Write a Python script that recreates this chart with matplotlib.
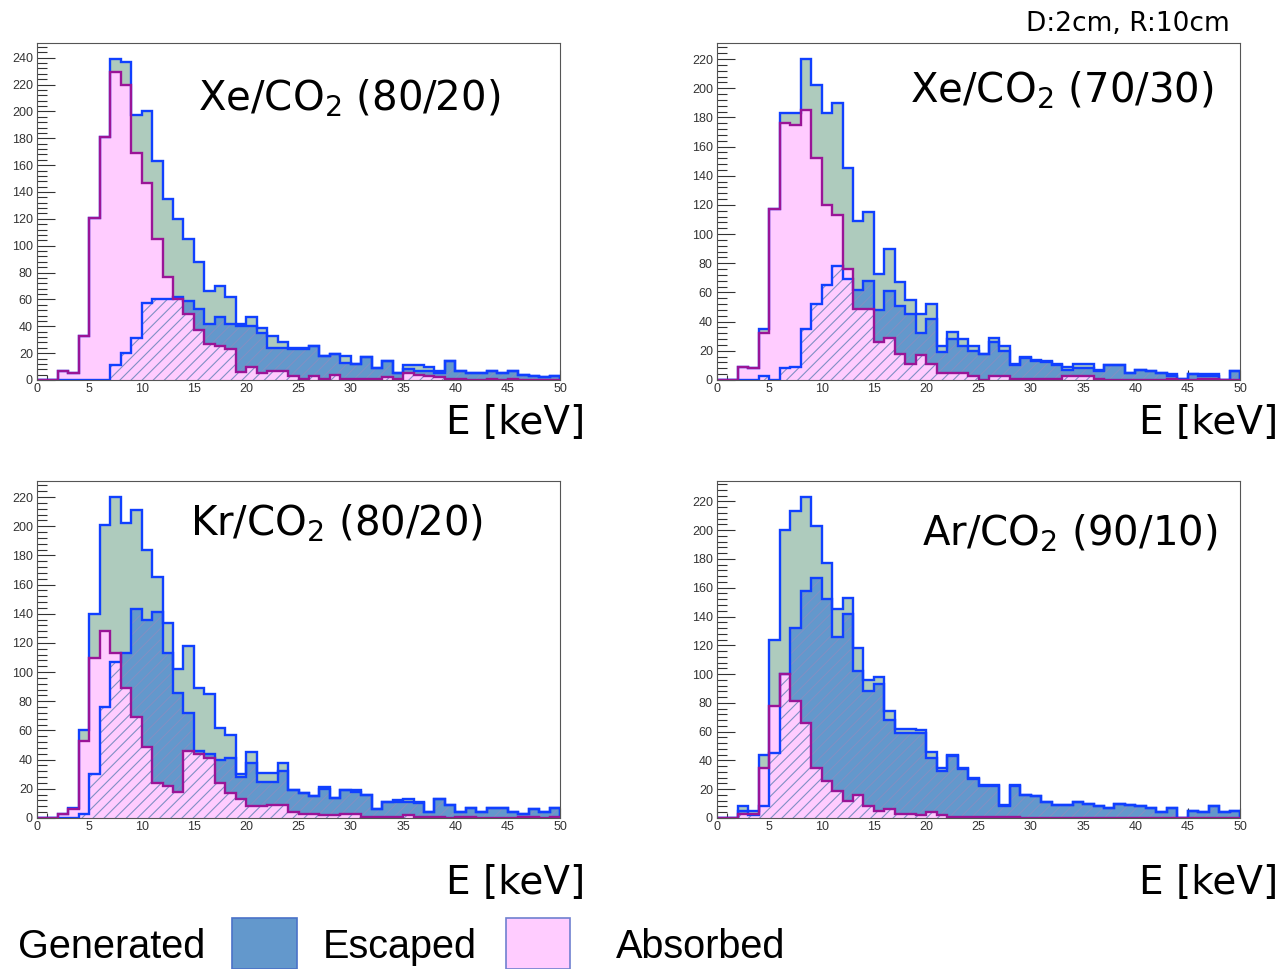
#!/usr/bin/env python3
"""Energy spectra of generated / escaped / absorbed photons for four gas mixtures (ROOT-style)."""

import numpy as np
import matplotlib

matplotlib.use("Agg")
import matplotlib.pyplot as plt
from matplotlib.patches import Rectangle
from matplotlib.ticker import MultipleLocator

W, H = 1281, 969

EDGES = np.arange(0, 51, 1)  # 1 keV bins, 0..50 keV

# --- Xe/CO2 (80/20)
GEN_XE80 = [0, 0, 7, 5, 33, 121, 181, 239, 237, 197, 200, 163, 135, 120, 105, 88, 66, 70, 62, 42,
            47, 39, 33, 28, 24, 24, 25, 18, 19, 18, 12, 17, 9, 14, 5, 11, 11, 10, 7, 14,
            7, 5, 5, 7, 5, 7, 4, 3, 2, 3]
ESC_XE80 = [0, 0, 0, 0, 0, 0, 0, 11, 20, 31, 57, 60, 60, 62, 59, 53, 42, 47, 42, 40,
            40, 35, 24, 24, 23, 23, 25, 18, 19, 13, 12, 17, 9, 14, 5, 8, 7, 7, 5, 14,
            7, 5, 5, 7, 5, 7, 4, 3, 2, 3]
ABS_XE80 = [0, 0, 7, 5, 33, 121, 181, 229, 220, 169, 147, 105, 77, 60, 49, 37, 27, 25, 23, 6,
            10, 5, 7, 7, 3, 1, 3, 1, 4, 1, 1, 1, 1, 2, 1, 5, 4, 3, 2, 1,
            1, 0, 0, 1, 0, 1, 0, 0, 0, 0]

# --- Xe/CO2 (70/30)
GEN_XE70 = [0, 0, 9, 8, 35, 117, 183, 183, 220, 202, 183, 190, 145, 109, 115, 73, 90, 67, 55, 45,
            52, 23, 33, 28, 23, 18, 29, 23, 11, 16, 14, 13, 11, 9, 11, 11, 7, 10, 10, 5,
            7, 6, 5, 4, 1, 4, 4, 4, 0, 6]
ESC_XE70 = [0, 0, 0, 0, 3, 0, 8, 9, 35, 52, 65, 78, 69, 62, 68, 48, 61, 51, 45, 32,
            42, 19, 28, 23, 20, 18, 26, 20, 10, 15, 13, 12, 10, 7, 8, 8, 6, 10, 10, 5,
            7, 6, 5, 3, 1, 4, 3, 3, 0, 6]
ABS_XE70 = [0, 0, 9, 8, 32, 117, 176, 175, 185, 152, 120, 113, 76, 49, 49, 26, 29, 18, 11, 17,
            11, 5, 5, 5, 3, 0, 3, 3, 1, 1, 1, 1, 1, 3, 3, 3, 1, 0, 0, 0,
            0, 0, 0, 1, 0, 0, 1, 1, 0, 0]

# --- Kr/CO2 (80/20)
GEN_KR80 = [0, 0, 3, 7, 60, 140, 201, 220, 202, 211, 184, 165, 134, 102, 118, 89, 85, 62, 57, 30,
            45, 31, 31, 38, 19, 17, 15, 21, 14, 19, 19, 16, 6, 11, 12, 13, 11, 4, 13, 9,
            4, 7, 4, 7, 7, 4, 3, 6, 4, 7]
ESC_KR80 = [0, 0, 0, 0, 3, 30, 76, 107, 113, 143, 136, 141, 113, 86, 72, 46, 44, 40, 41, 28,
            38, 25, 25, 32, 19, 17, 15, 20, 14, 19, 18, 16, 6, 11, 11, 11, 10, 4, 13, 9,
            4, 7, 4, 7, 7, 4, 3, 6, 4, 7]
ABS_KR80 = [0, 0, 3, 6, 53, 110, 128, 113, 89, 69, 49, 24, 22, 18, 46, 44, 41, 24, 17, 13,
            8, 8, 9, 9, 4, 3, 3, 2, 2, 3, 3, 1, 1, 1, 1, 2, 1, 1, 1, 0,
            1, 1, 0, 0, 0, 0, 1, 1, 0, 1]

# --- Ar/CO2 (90/10)
GEN_AR90 = [0, 0, 8, 5, 44, 124, 200, 213, 223, 203, 177, 145, 153, 118, 96, 98, 74, 62, 62, 61,
            46, 35, 44, 35, 28, 23, 23, 9, 23, 16, 15, 11, 9, 9, 11, 10, 8, 7, 10, 9,
            8, 7, 4, 7, 0, 5, 4, 8, 4, 5]
ESC_AR90 = [0, 0, 5, 2, 8, 45, 100, 132, 158, 167, 152, 126, 142, 102, 88, 93, 68, 59, 59, 59,
            42, 33, 43, 34, 27, 22, 22, 8, 22, 16, 15, 11, 9, 9, 11, 10, 8, 7, 10, 9,
            8, 7, 4, 7, 0, 5, 4, 8, 4, 5]
ABS_AR90 = [0, 0, 3, 3, 35, 78, 100, 81, 66, 35, 26, 19, 12, 16, 8, 5, 6, 3, 3, 2,
            4, 2, 1, 1, 1, 1, 1, 1, 1, 0, 0, 0, 0, 0, 0, 0, 0, 0, 0, 0,
            0, 0, 0, 0, 0, 0, 0, 0, 0, 0]

TITLES = ["Xe/CO$_2$ (80/20)", "Xe/CO$_2$ (70/30)", "Kr/CO$_2$ (80/20)", "Ar/CO$_2$ (90/10)"]
XLABEL = "E [keV]"
NOTE = "D:2cm, R:10cm"
LEGEND = ["Generated", "Escaped", "Absorbed"]

C_GEN = "#aecbbd"
C_ESC = "#6398cc"
C_ABS = "#ffccff"
C_LINE = "#1040ff"
C_ABS_LINE = "#9a1497"
C_HATCH = "#8090c4"

plt.rcParams["hatch.linewidth"] = 0.8
plt.rcParams["mathtext.fontset"] = "dejavusans"


def px(x, y):
    return x / W, 1.0 - y / H


def draw_panel(ax, gen, esc, absd):
    gen, esc, absd = np.asarray(gen), np.asarray(esc), np.asarray(absd)
    ax.stairs(gen, EDGES, fill=True, color=C_GEN, lw=0, zorder=1.0)
    ax.stairs(esc, EDGES, fill=True, color=C_ESC, lw=0, zorder=1.1)
    ax.stairs(absd, EDGES, fill=True, color=C_ABS, lw=0, zorder=1.2)
    ax.stairs(esc, EDGES, fill=True, facecolor="none", edgecolor=C_HATCH,
              hatch="///", lw=0, zorder=1.3)
    ax.stairs(gen, EDGES, color=C_LINE, lw=1.7, zorder=2.0)
    ax.stairs(esc, EDGES, color=C_LINE, lw=1.7, zorder=2.1)
    ax.stairs(absd, EDGES, color=C_ABS_LINE, lw=1.7, zorder=2.2)

    ax.set_xlim(0, 50)
    ax.set_ylim(0, 1.05 * gen.max())
    ax.set_axisbelow(True)
    ax.xaxis.set_major_locator(MultipleLocator(5))
    ax.xaxis.set_minor_locator(MultipleLocator(1))
    ax.yaxis.set_major_locator(MultipleLocator(20))
    ax.yaxis.set_minor_locator(MultipleLocator(4))
    ax.tick_params(which="both", direction="in", top=False, right=False,
                   color="#333333", width=0.8, labelsize=9, labelcolor="#333333")
    ax.tick_params(axis="y", which="major", length=13, pad=3)
    ax.tick_params(axis="y", which="minor", length=7)
    ax.tick_params(axis="x", which="major", length=7, pad=2)
    ax.tick_params(axis="x", which="minor", length=3.5)
    for lab in ax.get_xticklabels() + ax.get_yticklabels():
        lab.set_fontfamily("Liberation Sans")
    for sp in ax.spines.values():
        sp.set_color("#555555")
        sp.set_linewidth(0.8)


fig = plt.figure(figsize=(W / 100, H / 100), dpi=100)

panels = [
    (GEN_XE80, ESC_XE80, ABS_XE80, 37, 43, 380),
    (GEN_XE70, ESC_XE70, ABS_XE70, 717, 43, 380),
    (GEN_KR80, ESC_KR80, ABS_KR80, 37, 481, 818),
    (GEN_AR90, ESC_AR90, ABS_AR90, 717, 481, 818),
]
title_pos = [(198, 110), (910, 102), (190, 535), (922, 545)]
xlabel_pos = [(585, 434), (1278, 434), (585, 894), (1278, 894)]

for i, (gen, esc, absd, x0, top, bottom) in enumerate(panels):
    ax = fig.add_axes([x0 / W, 1 - bottom / H, 523 / W, (bottom - top) / H])
    draw_panel(ax, gen, esc, absd)
    tx, ty = px(*title_pos[i])
    fig.text(tx, ty, TITLES[i], fontsize=29, ha="left", va="baseline", color="black")
    lx, ly = px(*xlabel_pos[i])
    fig.text(lx, ly, XLABEL, fontsize=28, ha="right", va="baseline", color="black")

nx, ny = px(1230, 31)
fig.text(nx, ny, NOTE, fontsize=19, ha="right", va="baseline")

# legend row along the bottom
for text, x in zip(LEGEND, (18, 323, 616)):
    tx, ty = px(x, 958)
    fig.text(tx, ty, text, fontsize=28.5, family="Liberation Sans", ha="left", va="baseline")
for x0, x1, fc, ec in ((232, 297, C_ESC, "#4a72c8"), (506, 570, C_ABS, "#6f80d0")):
    bx, by = px(x0, 969)
    fig.patches.append(Rectangle((bx, by), (x1 - x0) / W, 51 / H, transform=fig.transFigure,
                                 facecolor=fc, edgecolor=ec, lw=1.2, clip_on=False))

fig.savefig("out.png", dpi=100)
